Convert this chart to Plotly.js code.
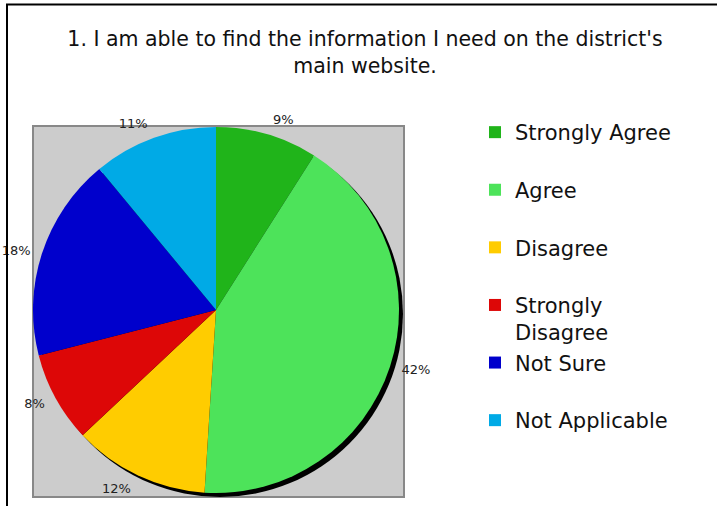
<!DOCTYPE html>
<html>
<head>
<meta charset="utf-8">
<script src="https://cdn.plot.ly/plotly-3.0.1.min.js"></script>
<style>html,body{margin:0;padding:0;background:#fff;}#chart{width:717px;height:506px;}</style>
</head>
<body>
<div id="chart"></div>
<script>
const titleText = "1. I am able to find the information I need on the district's<br>main website.";
const categories = ["Strongly Agree", "Agree", "Disagree", "Strongly<br>Disagree", "Not Sure", "Not Applicable"];
const percents = [9, 42, 12, 8, 18, 11];
const colors = ["#20b41a", "#4de35a", "#ffcc00", "#dd0707", "#0000cc", "#00aae6"];

const W = 717, H = 506;
const px = v => v / W;
const py = v => 1 - v / H;

// legend labels: pad single-line entries to two lines for spacing
const legendLabels = categories.map(c => c.indexOf('<br>') >= 0 ? c : c + '<br>\u00a0');

const cx = 216, cy = 310, r = 183, rl = 191;

const pieTrace = {
  type: 'pie',
  labels: legendLabels,
  values: percents,
  sort: false,
  direction: 'clockwise',
  rotation: 0,
  marker: {colors: colors, line: {width: 0}},
  textinfo: 'none',
  hoverinfo: 'none',
  domain: {x: [px(cx - r), px(cx + r)], y: [py(cy + r), py(cy - r)]}
};

// same data, transparent, only to carry the outside percentage labels a bit further out
const labelTrace = {
  type: 'pie',
  labels: legendLabels,
  values: percents,
  sort: false,
  direction: 'clockwise',
  rotation: 0,
  showlegend: false,
  marker: {colors: percents.map(() => 'rgba(0,0,0,0)'), line: {width: 0}},
  textinfo: 'percent',
  textposition: 'outside',
  textfont: {family: 'DejaVu Sans, Verdana, sans-serif', size: 13, color: '#222'},
  hoverinfo: 'none',
  domain: {x: [px(cx - rl), px(cx + rl)], y: [py(cy + rl), py(cy - rl)]}
};

const layout = {
  width: W, height: H,
  margin: {l: 0, r: 0, t: 0, b: 0},
  paper_bgcolor: '#fff',
  font: {family: 'DejaVu Sans, Verdana, sans-serif', color: '#111'},
  title: {
    text: titleText,
    font: {size: 20.5, color: '#111'},
    x: px(365), xref: 'paper', xanchor: 'center',
    y: py(46), yref: 'paper', yanchor: 'middle'
  },
  showlegend: true,
  legend: {
    x: px(475), xanchor: 'left',
    y: py(112), yanchor: 'top',
    valign: 'top',
    font: {size: 21, color: '#111'},
    bgcolor: 'rgba(0,0,0,0)',
    traceorder: 'normal'
  },
  shapes: [
    {type: 'line', xref: 'paper', yref: 'paper', x0: px(7), x1: px(7), y0: py(4), y1: py(506), line: {color: '#000', width: 2}},
    {type: 'line', xref: 'paper', yref: 'paper', x0: px(6), x1: px(717), y0: py(4.5), y1: py(4.5), line: {color: '#000', width: 2}},
    {type: 'rect', xref: 'paper', yref: 'paper', x0: px(33), x1: px(404), y0: py(497), y1: py(126), fillcolor: '#cccccc', line: {color: '#888888', width: 2}, layer: 'below'},
    {type: 'circle', xref: 'paper', yref: 'paper', x0: px(cx - r + 4), x1: px(cx + r + 4), y0: py(cy + r + 4), y1: py(cy - r + 4), fillcolor: '#000', line: {width: 0}, layer: 'below'}
  ]
};

Plotly.newPlot('chart', [pieTrace, labelTrace], layout, {staticPlot: true, displayModeBar: false});
</script>
</body>
</html>
